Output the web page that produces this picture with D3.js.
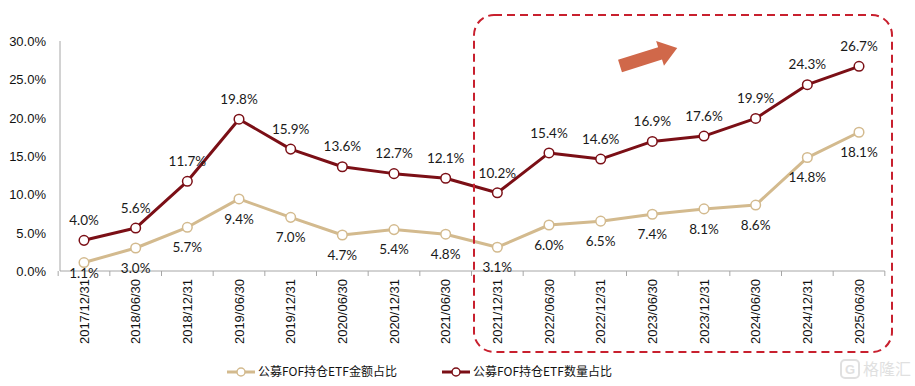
<!DOCTYPE html>
<html>
<head>
<meta charset="utf-8">
<script src="https://cdn.jsdelivr.net/npm/d3@7/dist/d3.min.js"></script>
<style>
  html, body { margin: 0; padding: 0; background: #fff; }
  svg { display: block; }
</style>
</head>
<body>
<svg id="chart" width="915" height="386"></svg>
<script>
const categories = ["2017/12/31","2018/06/30","2018/12/31","2019/06/30","2019/12/31","2020/06/30","2020/12/31","2021/06/30","2021/12/31","2022/06/30","2022/12/31","2023/06/30","2023/12/31","2024/06/30","2024/12/31","2025/06/30"];
const amountShare = [1.1, 3.0, 5.7, 9.4, 7.0, 4.7, 5.4, 4.8, 3.1, 6.0, 6.5, 7.4, 8.1, 8.6, 14.8, 18.1];
const countShare  = [4.0, 5.6, 11.7, 19.8, 15.9, 13.6, 12.7, 12.1, 10.2, 15.4, 14.6, 16.9, 17.6, 19.9, 24.3, 26.7];
const yTicks = [0, 5, 10, 15, 20, 25, 30];
const seriesNames = ["公募FOF持仓ETF金额占比", "公募FOF持仓ETF数量占比"];

const svg = d3.select("#chart");
const colAmount = "#D3BA8E";
const colCount = "#7B0F16";
const axisCol = "#A6A6A6";

const x = d3.scalePoint().domain(categories).range([84, 859]);
const step = x.step();
const y = d3.scaleLinear().domain([0, 30]).range([271, 41]);

// Y axis line
svg.append("line").attr("x1", 60).attr("x2", 60).attr("y1", y(30)).attr("y2", y(0))
  .attr("stroke", axisCol).attr("stroke-width", 1);

// Y tick labels
const yAxis = d3.axisLeft(y).tickValues(yTicks).tickFormat(d => d.toFixed(1) + "%").tickSize(0).tickPadding(0);
const yg = svg.append("g").attr("transform", "translate(46,0)").call(yAxis);
yg.select(".domain").remove();
yg.selectAll("text").attr("font-family", "Liberation Sans, Arial, sans-serif").attr("font-size", 13).attr("fill", "#111").attr("dy", "0.35em");

// X axis line + ticks
svg.append("line").attr("x1", 60).attr("x2", x(categories[categories.length-1]) + step/2)
  .attr("y1", y(0)).attr("y2", y(0)).attr("stroke", axisCol).attr("stroke-width", 1);
const tickPos = categories.map(c => x(c) - step/2).concat([x(categories[categories.length-1]) + step/2]);
svg.append("g").selectAll("line").data(tickPos).join("line")
  .attr("x1", d => d).attr("x2", d => d).attr("y1", y(0)).attr("y2", y(0) + 5)
  .attr("stroke", axisCol).attr("stroke-width", 1);

// X labels rotated
svg.append("g").selectAll("text").data(categories).join("text")
  .attr("transform", d => `translate(${x(d)},${y(0) + 8}) rotate(-90)`)
  .attr("text-anchor", "end").attr("dy", "0.35em")
  .attr("font-family", "Liberation Sans, Arial, sans-serif").attr("font-size", 13).attr("fill", "#111")
  .text(d => d);

// Lines
const line = d3.line().x((d, i) => x(categories[i])).y(d => y(d));
function drawSeries(vals, col, above) {
  svg.append("path").datum(vals).attr("d", line).attr("fill", "none")
    .attr("stroke", col).attr("stroke-width", 3).attr("stroke-linejoin", "round");
  svg.append("g").selectAll("circle").data(vals).join("circle")
    .attr("cx", (d, i) => x(categories[i])).attr("cy", d => y(d)).attr("r", 4.8)
    .attr("fill", "#fff").attr("stroke", col).attr("stroke-width", 1.5);
  svg.append("g").selectAll("text").data(vals).join("text")
    .attr("x", (d, i) => x(categories[i]))
    .attr("y", d => above ? y(d) - 20 : Math.min(y(d) + 20, y(0) + 2))
    .attr("text-anchor", "middle").attr("dy", "0.35em")
    .attr("font-family", "Lato, Carlito, sans-serif").attr("font-size", 13.5).attr("fill", "#1a1a1a")
    .text(d => d.toFixed(1) + "%");
}
drawSeries(amountShare, colAmount, false);
drawSeries(countShare, colCount, true);

// Dashed highlight box
svg.append("rect").attr("x", 474).attr("y", 15).attr("width", 418).attr("height", 337)
  .attr("rx", 20).attr("ry", 20).attr("fill", "none")
  .attr("stroke", "#C8202E").attr("stroke-width", 2).attr("stroke-dasharray", "8,5");

// Trend arrow
const arrow = svg.append("g").attr("transform", "translate(620,66) rotate(-17.5)");
arrow.append("path").attr("d", "M0,-6.5 L42,-6.5 L42,-13 L60,0 L42,13 L42,6.5 L0,6.5 Z")
  .attr("fill", "#D0684A");

// Legend
const legend = [
  { name: seriesNames[0], col: colAmount, x: 227 },
  { name: seriesNames[1], col: colCount, x: 442 }
];
const lg = svg.append("g").selectAll("g").data(legend).join("g")
  .attr("transform", d => `translate(${d.x},372)`);
lg.append("line").attr("x1", 0).attr("x2", 28).attr("y1", 0).attr("y2", 0)
  .attr("stroke", d => d.col).attr("stroke-width", 3);
lg.append("circle").attr("cx", 14).attr("cy", 0).attr("r", 4).attr("fill", "#fff")
  .attr("stroke", d => d.col).attr("stroke-width", 1.5);
lg.append("text").attr("x", 31).attr("y", 0).attr("dy", "0.35em")
  .attr("font-family", "Noto Sans CJK SC, sans-serif").attr("font-size", 12).attr("fill", "#111")
  .text(d => d.name);

// Watermark
const wm = svg.append("g").attr("transform", "translate(841,360)").attr("opacity", 0.55);
wm.append("rect").attr("x", 0).attr("y", 0).attr("width", 18).attr("height", 18).attr("rx", 4)
  .attr("fill", "none").attr("stroke", "#c8c8c8").attr("stroke-width", 2);
wm.append("text").attr("x", 9).attr("y", 9).attr("dy", "0.36em").attr("text-anchor", "middle")
  .attr("font-family", "Liberation Sans, sans-serif").attr("font-weight", "bold").attr("font-size", 13)
  .attr("fill", "#c8c8c8").text("G");
wm.append("text").attr("x", 22).attr("y", 9).attr("dy", "0.36em")
  .attr("font-family", "Noto Sans CJK SC, sans-serif").attr("font-size", 16).attr("fill", "#c8c8c8")
  .text("格隆汇");
</script>
</body>
</html>
